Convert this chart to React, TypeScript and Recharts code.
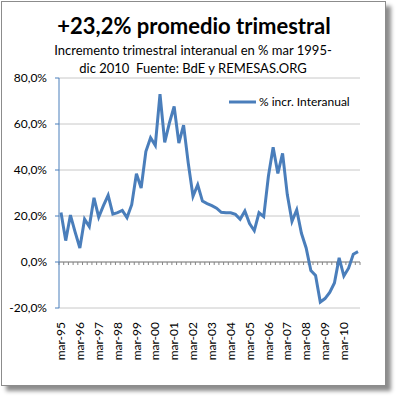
import React from 'react';
import { LineChart, Line, XAxis, YAxis, CartesianGrid, ReferenceLine, Legend } from 'recharts';

const years = ['95','96','97','98','99','00','01','02','03','04','05','06','07','08','09','10'];
const months = ['mar', 'jun', 'sep', 'dic'];
const categories: string[] = years.flatMap((y) => months.map((m) => `${m}-${y}`));

const interanual: number[] = [
  21.5, 9.3, 20.4, 13, 6.1, 18.6, 15.4, 27.9, 19.5, 24.5,
  29, 20.8, 21.5, 22.4, 19.3, 24.9, 38.4, 32.2, 48, 54,
  50.7, 73, 52, 60.5, 67.6, 51.7, 59.5, 42.9, 28.6, 33.6,
  26.5, 25.4, 24.5, 23.4, 21.6, 21.4, 21.4, 20.7, 18.6, 22.2,
  16.7, 13.6, 21.4, 19.7, 37.4, 49.9, 38.5, 47.2, 29.3, 17.7,
  22.7, 12.5, 6.1, -3.7, -5.9, -17.4, -15.9, -13.2, -9.1, 1.8,
  -6.1, -2.7, 3.4, 4.5,
];

const yTicks = [-20, 0, 20, 40, 60, 80];

const title = '+23,2% promedio trimestral';
const subtitle1 = 'Incremento trimestral interanual en % mar 1995-';
const subtitle2 = 'dic 2010  Fuente: BdE y REMESAS.ORG';
const seriesName = '% incr. Interanual';

const data = categories.map((c, i) => ({ cat: c, v: interanual[i] }));

const FONT = 'Lato, "Open Sans", sans-serif';
const LINE_COLOR = '#4A7EBB';

const XTick = (props: any) => {
  const { x, y, payload } = props;
  const ty = y + 12;
  return (
    <text
      x={x}
      y={ty}
      transform={`rotate(-90, ${x}, ${ty})`}
      textAnchor="end"
      dy="0.35em"
      fontSize={12}
      fontFamily={FONT}
      fill="#000"
    >
      {payload.value}
    </text>
  );
};

const ZeroLine = (props: any) => {
  const { x1, y1, x2, y2 } = props;
  const n = categories.length;
  const step = (x2 - x1) / n;
  const ticks = [];
  for (let i = 0; i <= n; i++) {
    const tx = x1 + step * i;
    ticks.push(<line key={i} x1={tx} y1={y1} x2={tx} y2={y1 + 3} stroke="#868686" strokeWidth={1} />);
  }
  return (
    <g>
      <line x1={x1} y1={y1} x2={x2} y2={y2} stroke="#868686" strokeWidth={1} />
      {ticks}
    </g>
  );
};

const LegendContent = () => (
  <div style={{ display: 'flex', alignItems: 'center', fontFamily: FONT, fontSize: 12, whiteSpace: 'nowrap' }}>
    <svg width={27} height={6} style={{ marginRight: 3 }}>
      <line x1={0} y1={3} x2={27} y2={3} stroke={LINE_COLOR} strokeWidth={3} />
    </svg>
    <span>{seriesName}</span>
  </div>
);

export default function App() {
  return (
    <div style={{ position: 'absolute', left: 0, top: 0, width: 399, height: 397, background: '#fff', overflow: 'hidden' }}>
      <div
        style={{
          position: 'absolute',
          left: 1,
          top: 1,
          width: 383,
          height: 383,
          border: '1px solid #8c8c8c',
          background: '#fff',
          boxShadow: '5px 5px 4px rgba(0,0,0,0.45)',
        }}
      />
      <div style={{ position: 'absolute', left: 0, top: 0 }}>
        <LineChart width={399} height={397} data={data} margin={{ top: 78, right: 39, bottom: 0, left: 0 }}>
          <CartesianGrid horizontal vertical={false} stroke="#c8c8c8" />
          <XAxis
            dataKey="cat"
            interval={3}
            height={74}
            axisLine={false}
            tickLine={false}
            tickSize={0}
            padding={{ left: 2, right: 2 }}
            tick={<XTick />}
          />
          <YAxis
            domain={[-20, 80]}
            ticks={yTicks}
            width={59}
            axisLine={{ stroke: LINE_COLOR }}
            tickLine={{ stroke: LINE_COLOR }}
            tickSize={4}
            tickMargin={8}
            tick={{ fontSize: 12, fontFamily: FONT, fill: '#000' }}
            tickFormatter={(v: number) => `${v.toFixed(1).replace('.', ',')}%`}
          />
          <ReferenceLine y={0} shape={<ZeroLine />} />
          <Legend
            content={<LegendContent />}
            wrapperStyle={{ position: 'absolute', left: 229, top: 94, width: 'auto' }}
          />
          <Line
            type="linear"
            dataKey="v"
            name={seriesName}
            stroke={LINE_COLOR}
            strokeWidth={3}
            dot={false}
            isAnimationActive={false}
          />
        </LineChart>
      </div>
      <div style={{ position: 'absolute', left: 0, top: 13, width: 388, textAlign: 'center', fontFamily: FONT, fontWeight: 700, fontSize: 22, lineHeight: '26px', color: '#000' }}>
        {title}
      </div>
      <div style={{ position: 'absolute', left: 0, top: 41, width: 386, textAlign: 'center', fontFamily: FONT, fontSize: 13, lineHeight: '18px', color: '#000', whiteSpace: 'pre' }}>
        <div>{subtitle1}</div>
        <div>{subtitle2}</div>
      </div>
    </div>
  );
}
